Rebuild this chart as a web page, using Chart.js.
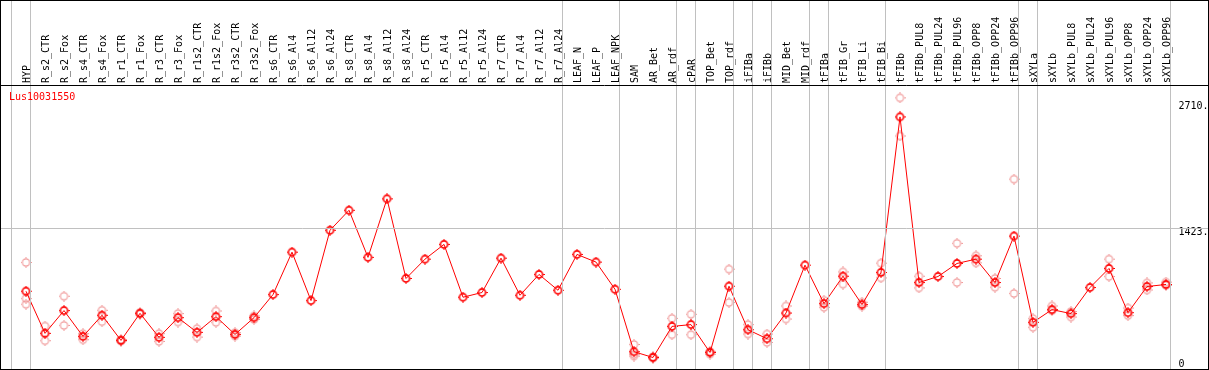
<!DOCTYPE html>
<html>
<head>
<meta charset="utf-8">
<script src="https://cdn.jsdelivr.net/npm/chart.js@4/dist/chart.umd.min.js"></script>
<style>
html,body{margin:0;padding:0;background:#fff;}
#wrap{width:1209px;height:370px;position:relative;}
</style>
</head>
<body>
<div id="wrap"><canvas id="c" width="1209" height="370"></canvas></div>
<script>
const geneName = 'Lus10031550';
const categories = ['HYP','R_s2_CTR','R_s2_Fox','R_s4_CTR','R_s4_Fox','R_r1_CTR','R_r1_Fox','R_r3_CTR','R_r3_Fox','R_r1s2_CTR','R_r1s2_Fox','R_r3s2_CTR','R_r3s2_Fox','R_s6_CTR','R_s6_Al4','R_s6_Al12','R_s6_Al24','R_s8_CTR','R_s8_Al4','R_s8_Al12','R_s8_Al24','R_r5_CTR','R_r5_Al4','R_r5_Al12','R_r5_Al24','R_r7_CTR','R_r7_Al4','R_r7_Al12','R_r7_Al24','LEAF_N','LEAF_P','LEAF_NPK','SAM','AR_Bet','AR_rdf','cPAR','TOP_Bet','TOP_rdf','iFIBa','iFIBb','MID_Bet','MID_rdf','tFIBa','tFIB_Gr','tFIB_Li','tFIB_Bi','tFIBb','tFIBb_PUL8','tFIBb_PUL24','tFIBb_PUL96','tFIBb_OPP8','tFIBb_OPP24','tFIBb_OPP96','sXYLa','sXYLb','sXYLb_PUL8','sXYLb_PUL24','sXYLb_PUL96','sXYLb_OPP8','sXYLb_OPP24','sXYLb_OPP96'];
const meanValues = [782,353,585,322,537,281,557,312,513,363,523,342,513,748,1180,687,1403,1607,1127,1723,912,1109,1259,721,769,1119,741,953,792,1157,1079,802,166,107,424,442,158,833,390,298,560,1048,656,935,646,973,2558,871,932,1065,1109,871,1344,465,595,554,820,1014,564,830,851];
const rep1 = [1075,427,731,350,588,290,565,350,554,401,581,360,530,null,null,null,null,null,null,null,null,null,null,null,null,null,null,null,null,null,null,null,240,115,506,547,141,1007,442,346,632,null,618,979,670,1068,2752,935,null,1270,1143,912,1924,503,632,575,null,1109,611,867,875];
const rep2 = [707,278,434,288,472,275,550,271,468,315,465,325,495,null,null,null,null,null,null,null,null,null,null,null,null,null,null,null,null,null,null,null,121,100,339,339,170,667,346,261,499,null,690,854,630,918,2364,816,null,871,1071,823,759,414,585,519,null,932,534,795,841];
const rep3 = [649,null,null,null,null,null,null,null,null,null,null,null,null,null,null,null,null,null,null,null,null,null,null,null,null,null,null,null,null,null,null,null,140,null,null,null,null,null,null,null,null,null,null,null,null,null,null,null,null,null,null,null,null,null,null,null,null,null,null,null,null];
const yTicks = [0, 1423, 2710];
const yTickLabels = ['0', '1423.', '2710.'];
const yMax = 2883;
// index of the last category of each group (-1 = left edge)
const groupEnds = [-1,0,28,31,34,35,37,38,39,41,42,45,52,53,60];

function makeMarker(color, lw){
  const c = document.createElement('canvas');
  c.width = 11; c.height = 11;
  const g = c.getContext('2d');
  g.strokeStyle = color; g.lineWidth = lw;
  g.beginPath(); g.arc(5.5,5.5,3.6,0,Math.PI*2); g.stroke();
  g.fillStyle = color;
  g.fillRect(5,0,1,1); g.fillRect(5,10,1,1);
  g.fillRect(0,5,1,1); g.fillRect(10,5,1,1);
  return c;
}
const meanMarker = makeMarker('#ff0000', 1.6);
const repMarker = makeMarker('rgb(240,150,150)', 1.1);

const FONT = "'DejaVu Sans Mono', monospace";

const framePlugin = {
  id: 'frame',
  afterDraw(chart){
    const ctx = chart.ctx, ca = chart.chartArea;
    const xs = chart.scales.x, ys = chart.scales.y;
    const W = chart.width, H = chart.height;
    const step = xs.getPixelForValue(1) - xs.getPixelForValue(0);
    ctx.save();
    ctx.strokeStyle = '#c0c0c0'; ctx.lineWidth = 1;
    const gy = Math.round(ys.getPixelForValue(yTicks[1])) + 0.5;
    ctx.beginPath(); ctx.moveTo(0, gy); ctx.lineTo(W, gy); ctx.stroke();
    groupEnds.forEach(k => {
      const x = Math.round(xs.getPixelForValue(0) + (k + 0.23) * step) + 0.5;
      ctx.beginPath(); ctx.moveTo(x, 0); ctx.lineTo(x, H); ctx.stroke();
    });
    ctx.strokeStyle = '#000'; ctx.lineWidth = 1;
    ctx.strokeRect(0.5, 0.5, W - 1, H - 1);
    const hy = Math.round(ca.top) + 0.5;
    ctx.beginPath(); ctx.moveTo(0, hy); ctx.lineTo(W, hy); ctx.stroke();
    ctx.fillStyle = '#ff0000';
    ctx.font = '10px ' + FONT;
    ctx.textBaseline = 'middle'; ctx.textAlign = 'left';
    ctx.fillText(geneName, 9, ca.top + 12);
    ctx.restore();
  }
};

const repDs = (data) => ({
  data: data, showLine: false, pointStyle: repMarker,
  pointRadius: 5, pointHoverRadius: 5, borderColor: 'rgb(240,150,150)', backgroundColor: 'transparent'
});

new Chart(document.getElementById('c'), {
  type: 'line',
  data: {
    labels: categories,
    datasets: [
      { data: meanValues, borderColor: '#ff0000', borderWidth: 1, backgroundColor: 'transparent',
        pointStyle: meanMarker, pointRadius: 5, pointHoverRadius: 5, tension: 0 },
      repDs(rep1), repDs(rep2), repDs(rep3)
    ]
  },
  options: {
    responsive: false,
    animation: false,
    events: [],
    layout: { autoPadding: false, padding: { left: 16.5, right: 0, top: 0, bottom: 2 } },
    plugins: { legend: { display: false }, tooltip: { enabled: false }, title: { display: false } },
    scales: {
      x: {
        type: 'category', position: 'top', offset: true,
        grid: { display: false, drawTicks: false },
        border: { display: false },
        ticks: { autoSkip: false, minRotation: 90, maxRotation: 90, padding: 2, labelOffset: 13,
          color: '#000', font: { family: FONT, size: 10 } },
        afterFit(s){ s.height = 85; s.paddingLeft = 0; s.paddingRight = 0; }
      },
      y: {
        position: 'right', min: 0, max: yMax,
        grid: { display: false, drawTicks: false },
        border: { display: false },
        afterBuildTicks(s){ s.ticks = yTicks.map(v => ({ value: v })); },
        ticks: {
          padding: 3, color: '#000', font: { family: FONT, size: 10, lineHeight: 0.8 },
          callback(v){
            const i = yTicks.indexOf(v);
            const t = yTickLabels[i];
            return i === 0 ? [t, ''] : ['', t];
          }
        },
        afterFit(s){ s.width = 33.5; s.paddingTop = 0; s.paddingBottom = 0; }
      }
    }
  },
  plugins: [framePlugin]
});
</script>
</body>
</html>
